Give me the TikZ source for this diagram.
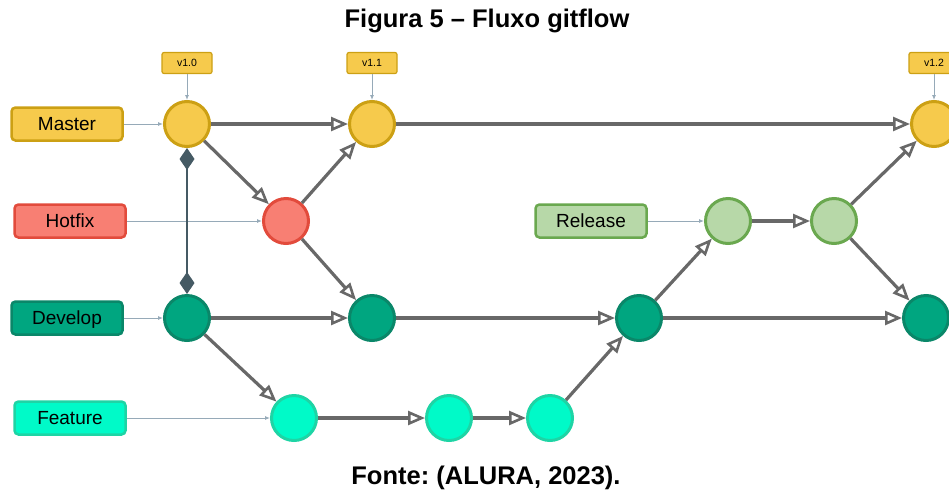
\documentclass[tikz,border=0pt]{standalone}
\usepackage{fontspec}
\setmainfont{Liberation Sans}
\usetikzlibrary{arrows.meta}

\definecolor{mastfill}{RGB}{246,202,76}
\definecolor{mastline}{RGB}{204,160,20}
\definecolor{hotfill}{RGB}{248,127,115}
\definecolor{hotline}{RGB}{226,75,60}
\definecolor{devfill}{RGB}{0,166,128}
\definecolor{devline}{RGB}{10,135,105}
\definecolor{featfill}{RGB}{0,250,200}
\definecolor{featline}{RGB}{30,212,165}
\definecolor{relfill}{RGB}{183,216,168}
\definecolor{relline}{RGB}{106,168,79}
\definecolor{flowgray}{RGB}{104,104,104}
\definecolor{pointcol}{RGB}{150,170,184}
\definecolor{linkcol}{RGB}{69,90,100}

\tikzset{
  commit/.style={circle, line width=3pt, minimum size=45pt, inner sep=0pt},
  branch/.style={rectangle, rounded corners=4pt, line width=2.5pt,
    minimum width=111pt, minimum height=33pt, inner sep=0pt,
    text height=13.6pt, text depth=0pt,
    font=\fontsize{19}{22}\selectfont},
  vtag/.style={rectangle, rounded corners=2pt, draw=mastline, fill=mastfill,
    line width=1.2pt, minimum width=50pt, minimum height=21pt, inner sep=0pt,
    text height=7.5pt, text depth=0pt,
    font=\fontsize{10.5}{12}\selectfont},
  flow/.style={draw=flowgray, line width=3.2pt,
    -{Triangle[open, fill=white, length=17pt, width=14pt, line width=2.6pt]}},
  pointer/.style={draw=pointcol, line width=0.9pt,
    -{Latex[length=5pt, width=4pt]}},
  link/.style={draw=linkcol, line width=2.8pt,
    {Diamond[length=22pt, width=15pt]}-{Diamond[length=22pt, width=15pt]}},
  master/.style={commit, draw=mastline, fill=mastfill},
  hotfix/.style={commit, draw=hotline, fill=hotfill},
  develop/.style={commit, draw=devline, fill=devfill},
  feature/.style={commit, draw=featline, fill=featfill},
  release/.style={commit, draw=relline, fill=relfill},
  caption/.style={font=\bfseries\fontsize{25.5}{29}\selectfont}
}

\begin{document}
\frenchspacing
\begin{tikzpicture}[x=1pt, y=-1pt]
\useasboundingbox (0,0) rectangle (949,493);

% captions
\node[caption] (title) at (487,21) {Figura 5 – Fluxo gitflow};
\node[caption] (source) at (486,478) {Fonte: (ALURA, 2023).};

% branch labels
\node[branch, draw=mastline, fill=mastfill] (lmaster) at (67,124) {Master};
\node[branch, draw=hotline, fill=hotfill] (lhotfix) at (70,221) {Hotfix};
\node[branch, draw=devline, fill=devfill] (ldevelop) at (67,318) {Develop};
\node[branch, draw=featline, fill=featfill] (lfeature) at (70,418) {Feature};
\node[branch, draw=relline, fill=relfill] (lrelease) at (591,221) {Release};

% commits
\node[master] (m1) at (187,124) {};
\node[master] (m2) at (372,124) {};
\node[master] (m3) at (934,124) {};
\node[hotfix] (h1) at (286,221) {};
\node[develop] (d1) at (187,318) {};
\node[develop] (d2) at (372,318) {};
\node[develop] (d3) at (639,318) {};
\node[develop] (d4) at (926,318) {};
\node[feature] (f1) at (294,418) {};
\node[feature] (f2) at (449,418) {};
\node[feature] (f3) at (550,418) {};
\node[release] (r1) at (728,221) {};
\node[release] (r2) at (834,221) {};

% version tags
\node[vtag] (t10) at (187,63) {v1.0};
\node[vtag] (t11) at (372,63) {v1.1};
\node[vtag] (t12) at (934,63) {v1.2};

% label pointers
\draw[pointer] (lmaster) -- (m1);
\draw[pointer] (lhotfix) -- (h1);
\draw[pointer] (ldevelop) -- (d1);
\draw[pointer] (lfeature) -- (f1);
\draw[pointer] (lrelease) -- (r1);
\draw[pointer] (t10) -- (m1);
\draw[pointer] (t11) -- (m2);
\draw[pointer] (t12) -- (m3);

% master / develop link
\draw[link] (m1) -- (d1);

% commit flow
\draw[flow] (m1) -- (m2);
\draw[flow] (m1) -- (h1);
\draw[flow] (h1) -- (m2);
\draw[flow] (h1) -- (d2);
\draw[flow] (m2) -- (m3);
\draw[flow] (d1) -- (d2);
\draw[flow] (d1) -- (f1);
\draw[flow] (d2) -- (d3);
\draw[flow] (f1) -- (f2);
\draw[flow] (f2) -- (f3);
\draw[flow] (f3) -- (d3);
\draw[flow] (d3) -- (r1);
\draw[flow] (r1) -- (r2);
\draw[flow] (r2) -- (m3);
\draw[flow] (r2) -- (d4);
\draw[flow] (d3) -- (d4);
\end{tikzpicture}
\end{document}
